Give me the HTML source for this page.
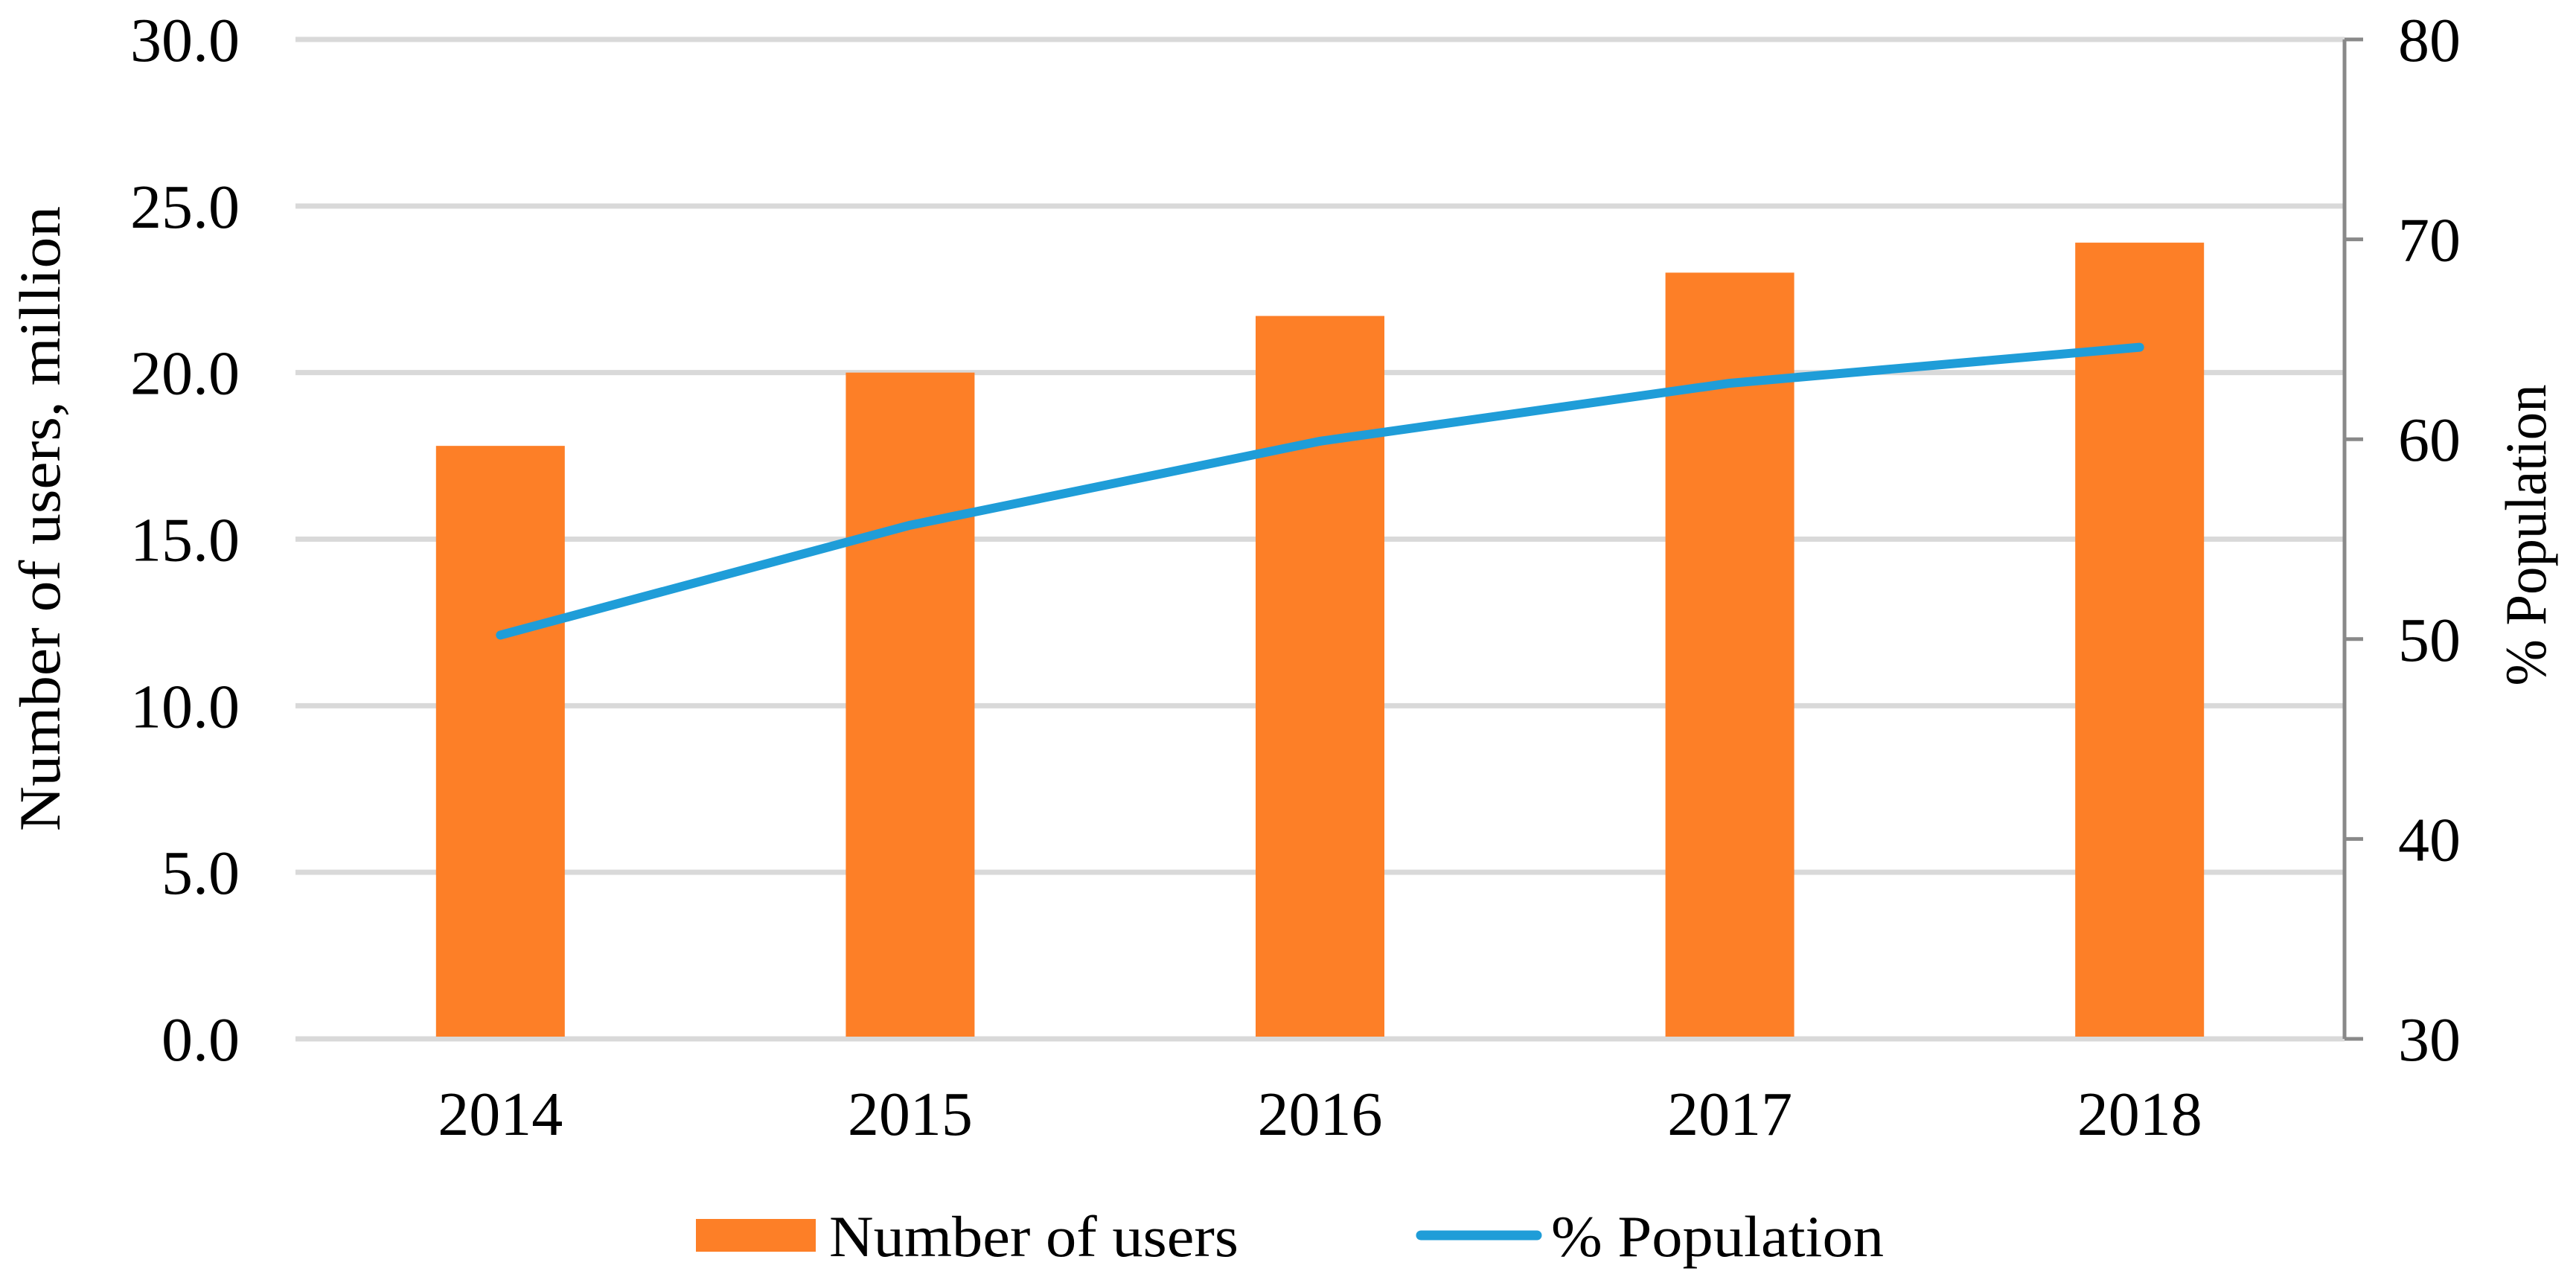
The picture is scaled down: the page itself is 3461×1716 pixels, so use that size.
<!DOCTYPE html>
<html><head><meta charset="utf-8"><style>
html,body{margin:0;padding:0;background:#fff;}
svg{display:block;font-family:"Liberation Serif",serif;}
</style></head><body>
<svg id="chart" width="3461" height="1716" viewBox="0 0 3461 1716" xmlns="http://www.w3.org/2000/svg">
<g id="grid"></g>
<g id="bars"></g>
<g id="line"></g>
<g id="axes"></g>
<text transform="translate(80,697) rotate(-90)" text-anchor="middle" font-size="78" textLength="840" lengthAdjust="spacingAndGlyphs">Number of users, million</text>
<text transform="translate(3420,719) rotate(-90)" text-anchor="middle" font-size="78" textLength="405" lengthAdjust="spacingAndGlyphs">% Population</text>
<g>
<rect x="935" y="1638" width="161" height="44" fill="#fd7f27"/>
<text x="1114" y="1688" font-size="78" textLength="550" lengthAdjust="spacingAndGlyphs">Number of users</text>
<line x1="1909" y1="1660" x2="2065" y2="1660" stroke="#1f9dd8" stroke-width="13" stroke-linecap="round"/>
<text x="2084" y="1688" font-size="78" textLength="447" lengthAdjust="spacingAndGlyphs">% Population</text>
</g>
</svg>
<script>
const categories = ["2014","2015","2016","2017","2018"];
const users = [17.8, 20.0, 21.7, 23.0, 23.9];
const population = [50.2, 55.7, 59.9, 62.8, 64.6];
const leftTicks = [0,5,10,15,20,25,30];
const rightTicks = [30,40,50,60,70,80];

const NS = "http://www.w3.org/2000/svg";
const X0 = 397, X1 = 3150, Y0 = 1396, Y1 = 53;
const yL = v => Y0 - (v - 0) / 30 * (Y0 - Y1);
const yR = v => Y0 - (v - 30) / 50 * (Y0 - Y1);
const band = (X1 - X0) / categories.length;
const xC = i => X0 + band * (i + 0.5);
function mk(tag, attrs, parent){const e=document.createElementNS(NS,tag);for(const k in attrs)e.setAttribute(k,attrs[k]);parent.appendChild(e);return e;}
const grid=document.getElementById('grid'), bars=document.getElementById('bars'), line=document.getElementById('line'), axes=document.getElementById('axes');

leftTicks.forEach(t=>{
  const g=mk('line',{x1:X0,x2:X1,y1:yL(t),y2:yL(t),stroke:'#d9d9d9','stroke-width':7},grid);
  
  
  const tx=mk('text',{x:322,y:yL(t)+29,'text-anchor':'end','font-size':84},axes);
  tx.textContent=t.toFixed(1);
  
  
});
const ax=mk('line',{x1:X1,x2:X1,y1:Y1,y2:Y0,stroke:'#898989','stroke-width':5},axes);


rightTicks.forEach(t=>{
  const tk=mk('line',{x1:X1,x2:3175,y1:yR(t),y2:yR(t),stroke:'#898989','stroke-width':5},axes);
  
  
  const tx=mk('text',{x:3222,y:yR(t)+29,'font-size':84},axes);
  tx.textContent=t;
  
  
});
categories.forEach((c,i)=>{
  const bw=173;
  const r=mk('rect',{x:xC(i)-bw/2,y:yL(users[i]),width:bw,height:Y0-3-yL(users[i]),fill:'#fd7f27'},bars);
  
  
  const tx=mk('text',{x:xC(i),y:1525,'text-anchor':'middle','font-size':84},axes);
  tx.textContent=c;
  
  
});
const pts=population.map((v,i)=>xC(i)+','+yR(v)).join(' ');
const pl=mk('polyline',{points:pts,fill:'none',stroke:'#1f9dd8','stroke-width':12,'stroke-linecap':'round','stroke-linejoin':'round'},line);


</script>
</body></html>
